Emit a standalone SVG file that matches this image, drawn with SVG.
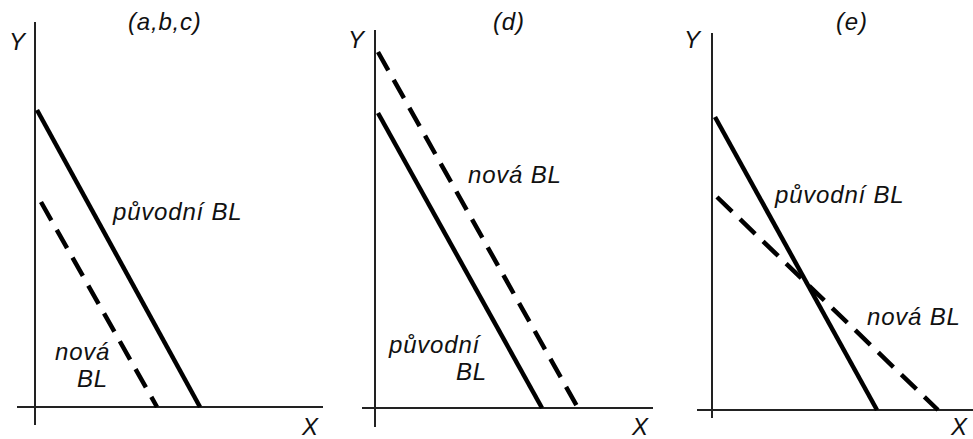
<svg xmlns="http://www.w3.org/2000/svg" width="973" height="439" viewBox="0 0 973 439">
<style>
text{font-family:"Liberation Sans",Arial,sans-serif;font-style:italic;font-size:24px;letter-spacing:0.8px;fill:#111}
.ax{stroke:#222;stroke-width:2;fill:none}
.sol{stroke:#000;stroke-width:4.5;fill:none}
.dash{stroke:#000;stroke-width:4.5;fill:none;stroke-dasharray:21 11}
</style>
<rect width="973" height="439" fill="#fff"/>
<g id="panel-abc">
<line class="ax" x1="35" y1="22" x2="35" y2="425"/>
<line class="ax" x1="17" y1="407" x2="323" y2="407"/>
<text x="9" y="50">Y</text>
<text x="302" y="435">X</text>
<text x="128" y="30">(a,b,c)</text>
<line class="sol" x1="37" y1="110" x2="200" y2="407"/>
<line class="dash" x1="41" y1="202" x2="157" y2="407"/>
<text x="113" y="220">původní BL</text>
<text x="55" y="360">nová</text>
<text x="77" y="387">BL</text>
</g>
<g id="panel-d">
<line class="ax" x1="375" y1="30" x2="375" y2="427"/>
<line class="ax" x1="362" y1="408" x2="653" y2="408"/>
<text x="348" y="48">Y</text>
<text x="632" y="435">X</text>
<text x="493" y="30">(d)</text>
<line class="sol" x1="378" y1="113" x2="542" y2="408"/>
<line class="dash" x1="378" y1="52" x2="578" y2="408"/>
<text x="468" y="183">nová BL</text>
<text x="389" y="353">původní</text>
<text x="456" y="380">BL</text>
</g>
<g id="panel-e">
<line class="ax" x1="712" y1="33" x2="712" y2="418"/>
<line class="ax" x1="697" y1="410" x2="973" y2="410"/>
<text x="684" y="48">Y</text>
<text x="951" y="435">X</text>
<text x="836" y="30">(e)</text>
<line class="sol" x1="715" y1="117" x2="877" y2="410"/>
<line class="dash" x1="717" y1="197" x2="938" y2="410"/>
<text x="775" y="203">původní BL</text>
<text x="867" y="325">nová BL</text>
</g>
</svg>
